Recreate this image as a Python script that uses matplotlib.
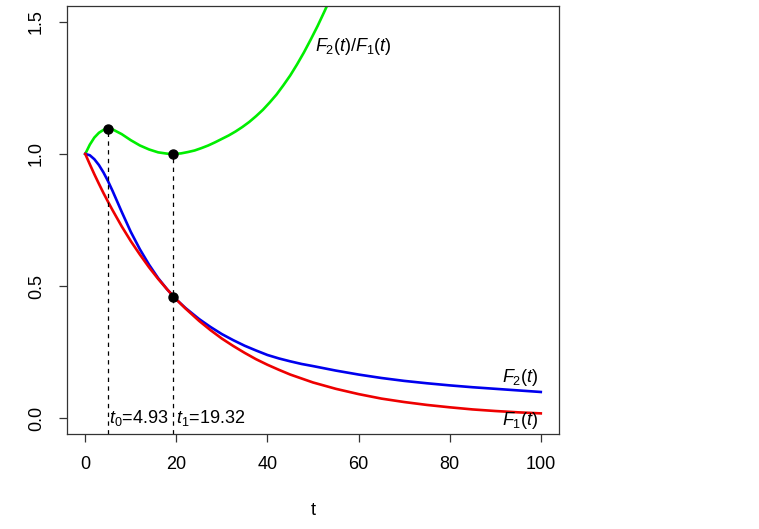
import matplotlib
matplotlib.use("Agg")
import matplotlib.pyplot as plt

plt.rcParams['font.family'] = ['Liberation Sans', 'DejaVu Sans']
plt.rcParams['mathtext.fontset'] = 'custom'
plt.rcParams['mathtext.rm'] = 'Liberation Sans'
plt.rcParams['mathtext.it'] = 'Liberation Sans:italic'

# values
t = [0, 1, 2, 3, 4, 5, 6, 8, 10, 12, 14, 16, 18, 20, 22, 25, 27.5, 30, 32.5,
     35, 37.5, 40, 42.5, 45, 47.5, 50, 55, 60, 65, 70, 75, 80, 85, 90, 95, 100]
F1 = [1.0, 0.961, 0.923, 0.887, 0.852, 0.819, 0.787, 0.726, 0.670, 0.619,
      0.571, 0.527, 0.487, 0.449, 0.415, 0.368, 0.333, 0.301, 0.273,
      0.247, 0.223, 0.202, 0.183, 0.165, 0.150,
      0.135, 0.111, 0.091, 0.074, 0.061, 0.050, 0.041, 0.033, 0.027, 0.022, 0.018]
F2 = [1.0, 0.995, 0.980, 0.958, 0.930, 0.897, 0.860, 0.781, 0.705, 0.639,
      0.581, 0.530, 0.487, 0.449, 0.417, 0.375, 0.345, 0.318, 0.295,
      0.274, 0.256, 0.239, 0.226, 0.215, 0.205,
      0.197, 0.180, 0.165, 0.152, 0.141, 0.132, 0.124, 0.117, 0.111, 0.105, 0.099]

t_ratio = [0, 1, 2, 3, 4, 4.93, 6, 8, 10, 12, 14, 16, 18, 19.32, 21, 22.5, 24,
           25.5, 27, 28.5, 30, 31.5, 33, 34.5, 36, 37.5, 39, 40.5, 42, 43.5,
           45, 46.5, 48, 49.5, 51, 52.5, 54]
ratio = [1.0, 1.035, 1.062, 1.08, 1.091, 1.095, 1.093, 1.075, 1.052, 1.032,
         1.017, 1.006, 1.001, 1.0, 1.002, 1.007, 1.013, 1.022, 1.032, 1.044,
         1.057, 1.070, 1.085, 1.102, 1.121, 1.143, 1.167, 1.195, 1.225, 1.260,
         1.297, 1.339, 1.384, 1.433, 1.484, 1.539, 1.596]

t0, t1 = 4.93, 19.32
pt_x = [t0, t1, t1]
pt_y = [1.095, 1.0, 0.46]

xticks = [0, 20, 40, 60, 80, 100]
yticks = [0.0, 0.5, 1.0, 1.5]

fig = plt.figure(figsize=(7.59, 5.29), dpi=100)
ax = fig.add_axes([0.0883, 0.1796, 0.6482, 0.8091])
ax.set_xlim(-4, 104)
ax.set_ylim(-0.06, 1.56)

ax.plot(t_ratio, ratio, color='#00ee00', lw=1.9)
ax.plot(t, F2, color='#0000ee', lw=1.9)
ax.plot(t, F1, color='#ee0000', lw=1.9)

ax.vlines([t0, t1], -0.06, [pt_y[0], pt_y[1]], colors='black',
          linestyles=(0, (3.5, 3.5)), lw=0.9)
ax.plot(pt_x, pt_y, 'o', color='black', ms=6.5)

fs = 13
ax.text(t0 + 0.3, 0.0, '$t_0$=4.93', fontsize=fs, ha='left', va='center')
ax.text(t1 + 0.6, 0.0, '$t_1$=19.32', fontsize=fs, ha='left', va='center')
ax.text(50.5, 1.405, '$F_2(t)/F_1(t)$', fontsize=fs, ha='left', va='center')
ax.text(99.5, 0.152, '$F_2(t)$', fontsize=fs, ha='right', va='center')
ax.text(99.5, -0.01, '$F_1(t)$', fontsize=fs, ha='right', va='center')

ax.set_xticks(xticks)
ax.set_xticklabels([str(v) for v in xticks])
ax.set_yticks(yticks)
ax.set_yticklabels(['%.1f' % v for v in yticks], rotation=90, va='center')
ax.tick_params(direction='out', length=6, width=0.9, labelsize=fs, pad=10,
               color='#333333')
for s in ax.spines.values():
    s.set_color('#333333')
    s.set_linewidth(0.9)

ax.set_xlabel('t', fontsize=fs)
ax.xaxis.set_label_coords(0.5, -0.16)
ax.set_ylabel('F(t)', fontsize=fs)
ax.yaxis.set_label_coords(-0.142, 0.5)

fig.savefig('out.png', dpi=100)
